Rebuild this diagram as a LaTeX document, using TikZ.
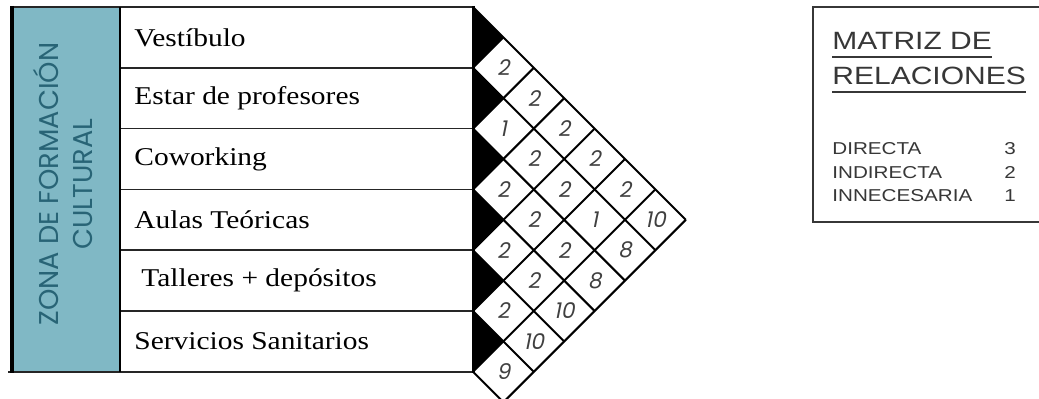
\documentclass[tikz,border=0pt]{standalone}
\usepackage{fontspec}
\setmainfont[FakeStretch=1.15]{Liberation Serif}
\newfontfamily\legfont[FakeStretch=1.2]{Liberation Sans}
\newfontfamily\zonafont{Poppins}
\newfontfamily\numfont[FakeSlant=0.2]{Poppins}
\usepackage{tikz}
\usetikzlibrary{positioning}
\definecolor{zonablue}{RGB}{128,184,197}
\definecolor{zonatext}{RGB}{40,100,118}
\definecolor{leggray}{RGB}{55,55,55}

\begin{document}
\begin{tikzpicture}[
  rowtext/.style={anchor=west, inner sep=0pt, font=\fontsize{12.8}{15}\selectfont},
  cellnum/.style={inner sep=0pt, text=black!75, font=\numfont\fontsize{10.8}{12}\selectfont},
  legtitle/.style={anchor=base west, inner sep=0pt, text=leggray, font=\legfont\fontsize{12.5}{14}\selectfont},
  legrow/.style={inner sep=0pt, text=leggray, font=\legfont\fontsize{8.6}{10}\selectfont}
]
\begin{scope}[x=0.5pt,y=-0.5pt]
\useasboundingbox (0,0) rectangle (1039,399);
\clip (0,0) rectangle (1039,399);
\fill[zonablue] (12,7) rectangle (120,372);
\foreach \k in {0,...,5}
  \fill[black] (473,7+60.8*\k) -- (503.4,37.4+60.8*\k) -- (473,67.8+60.8*\k) -- cycle;
\foreach \k in {0,...,7} {
  \draw[line width=1pt] (473,7+60.8*\k) -- (685.8-30.4*\k,219.8+30.4*\k);
  \draw[line width=1pt] (473,7+60.8*\k) -- (473+30.4*\k,7+30.4*\k);
}
\foreach \k in {1,...,5}
  \draw[line width=0.8pt, black!85] (120,7+60.8*\k) -- (473,7+60.8*\k);
\draw[line width=0.9pt, black!85] (10,7) -- (473,7);
\draw[line width=0.9pt, black!85] (8,372) -- (473,372);
\draw[line width=2pt] (12,6) -- (12,373);
\draw[line width=1pt] (120,7) -- (120,372);
\draw[line width=1.5pt] (473,6) -- (473,373);
\node[rotate=90, align=center, text=zonatext, inner sep=0pt,
  font=\zonafont\fontsize{13.6}{17}\selectfont] (zona) at (63,184) {ZONA DE FORMACIÓN\\CULTURAL};
\node[rowtext] (vest) at (134,37.4) {Vestíbulo};
\node[rowtext] (estar) at (134,98.2) {Estar de profesores};
\node[rowtext] (cowork) at (134,159) {Coworking};
\node[rowtext] (aulas) at (134,219.8) {Aulas Teóricas};
\node[rowtext] (taller) at (141,280.6) {Talleres + depósitos};
\node[rowtext] (servi) at (134,341.4) {Servicios Sanitarios};
\foreach \i/\j/\v in {1/2/2, 2/3/1, 3/4/2, 4/5/2, 5/6/2, 6/7/9,
    1/3/2, 2/4/2, 3/5/2, 4/6/2, 5/7/10,
    1/4/2, 2/5/2, 3/6/2, 4/7/10,
    1/5/2, 2/6/1, 3/7/8,
    1/6/2, 2/7/8,
    1/7/10}
  \node[cellnum] (c\i\j) at (473+30.4*\j-30.4*\i,7+30.4*\i+30.4*\j-30.4) {\v};
\draw[line width=1pt, leggray] (813,7) rectangle (1050,222);
\node[legtitle] (matriz) at (832,50) {MATRIZ DE};
\node[legtitle] (relac) at (832,85) {RELACIONES};
\draw[line width=1.2pt, leggray] ([yshift=-3.5pt]matriz.base west) -- ([yshift=-3.5pt]matriz.base east);
\draw[line width=1.2pt, leggray] ([yshift=-3.5pt]relac.base west) -- ([yshift=-3.5pt]relac.base east);
\node[legrow, anchor=base west] (dir) at (832,155) {DIRECTA};
\node[legrow, anchor=base west] (indir) at (832,179) {INDIRECTA};
\node[legrow, anchor=base west] (innec) at (832,202) {INNECESARIA};
\node[legrow, anchor=base] (tres) at (1010,155) {3};
\node[legrow, anchor=base] (dos) at (1010,179) {2};
\node[legrow, anchor=base] (uno) at (1010,202) {1};
\end{scope}
\end{tikzpicture}
\end{document}
